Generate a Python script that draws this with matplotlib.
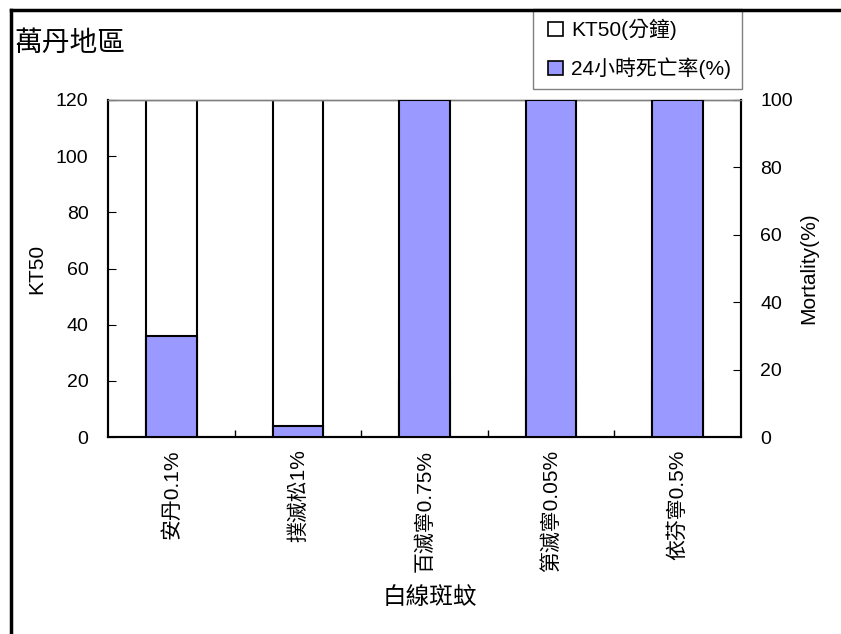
import matplotlib
matplotlib.use("Agg")
import matplotlib.pyplot as plt
from matplotlib.patches import Rectangle
from matplotlib.lines import Line2D
import numpy as np

plt.rcParams['font.family'] = ['Liberation Sans', 'Noto Sans CJK TC']

# data
insecticides = ["安丹0.1%", "撲滅松1%", "百滅寧0.75%", "第滅寧0.05%", "依芬寧0.5%"]
kt50_min = [120, 120, 20, 20, 20]       # KT50 (minutes), first two reach axis top
mortality_24h = [30, 3.3, 100, 100, 100]  # 24 h mortality (%)

title = "萬丹地區"
xlabel = "白線斑蚊"
legend_labels = ["KT50(分鐘)", "24小時死亡率(%)"]

purple = "#9999FF"

fig = plt.figure(figsize=(8.41, 6.34), dpi=100)
ax = fig.add_axes([108 / 841, 1 - 437 / 634, (741 - 108) / 841, (437 - 100) / 634])
ax2 = ax.twinx()

x = np.arange(len(insecticides))
ax.bar(x, kt50_min, width=0.4, color="white", edgecolor="black", linewidth=1.5, zorder=2)
ax2.bar(x, mortality_24h, width=0.4, color=purple, edgecolor="black", linewidth=1.5, zorder=3)

ax.set_xlim(-0.5, len(insecticides) - 0.5)
ax.set_ylim(0, 120)
ax2.set_ylim(0, 100)
ax.set_yticks(range(0, 121, 20))
ax2.set_yticks(range(0, 101, 20))

# category labels centred, tick marks between categories
ax.set_xticks(x)
ax.set_xticklabels(insecticides, rotation=90, fontsize=15)
ax.tick_params(axis="x", length=0, pad=9)
ax.set_xticks(np.arange(0.5, len(insecticides) - 0.5, 1), minor=True)
ax.tick_params(axis="x", which="minor", direction="in", length=5, width=1)

ax.tick_params(axis="y", direction="in", length=6, labelsize=14, pad=14)
ax2.tick_params(axis="y", direction="in", length=6, labelsize=14, pad=14)

for a in (ax, ax2):
    for s in ("left", "right", "bottom"):
        a.spines[s].set_color("black")
        a.spines[s].set_linewidth(1.5)
    a.spines["top"].set_color("#808080")
    a.spines["top"].set_linewidth(1)

ax.set_ylabel("KT50", fontsize=15)
ax.yaxis.set_label_coords((46 - 108) / 633, 0.5)
ax2.set_ylabel("Mortality(%)", fontsize=15)
ax2.yaxis.set_label_coords((799 - 108) / 633, 0.5)
fig.text(430 / 841, 1 - 598 / 634, xlabel, fontsize=17, ha="center", va="center")

fig.text(14 / 841, 1 - 44 / 634, title, fontsize=20, ha="left", va="center")

# legend box
fig.patches.append(Rectangle((533 / 841, 1 - 89 / 634), 209 / 841, 80 / 634,
                             transform=fig.transFigure, facecolor="white",
                             edgecolor="#808080", linewidth=1))
for i, (lab, col) in enumerate(zip(legend_labels, ["white", purple])):
    yc = 1 - (29 + 39 * i) / 634
    fig.patches.append(Rectangle((548 / 841, yc - 7 / 634), 15 / 841, 14 / 634,
                                 transform=fig.transFigure, facecolor=col,
                                 edgecolor="black", linewidth=1.2))
    fig.text(571 / 841, yc, lab, fontsize=15, ha="left", va="center")

# chart area border
fig.lines.append(Line2D([11 / 841, 11 / 841], [0, 1 - 10 / 634], transform=fig.transFigure,
                        color="black", linewidth=2.5))
fig.lines.append(Line2D([11 / 841, 1], [1 - 10 / 634, 1 - 10 / 634], transform=fig.transFigure,
                        color="black", linewidth=2.5))

fig.savefig("out.png", dpi=100)
